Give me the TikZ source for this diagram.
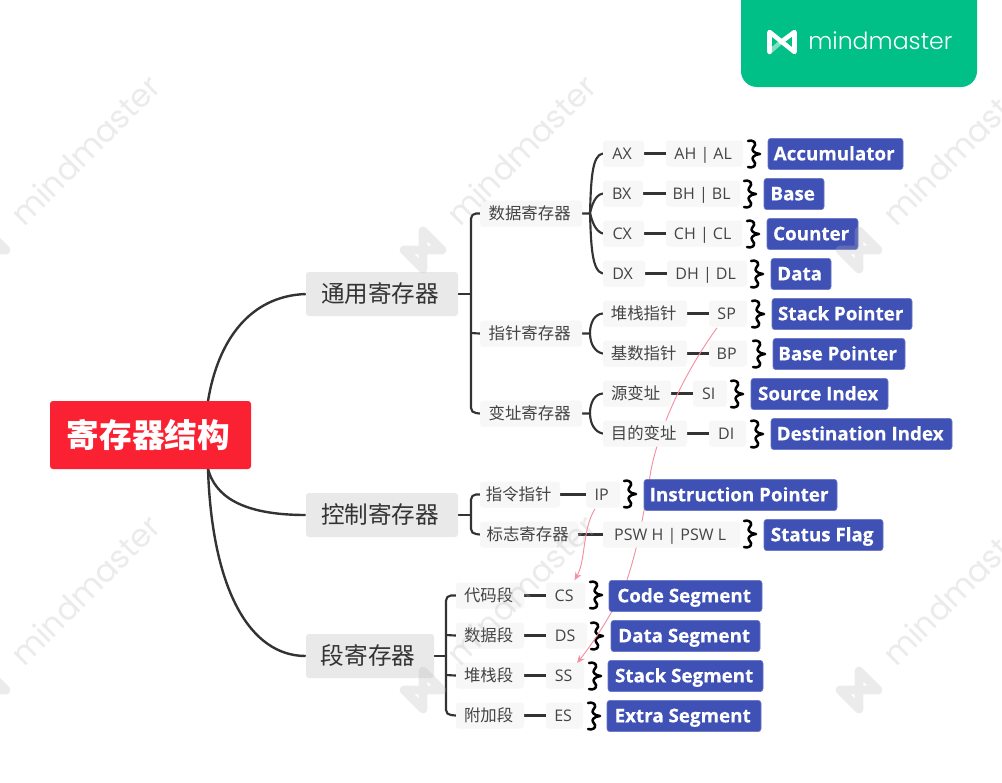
\documentclass[tikz,border=0pt]{standalone}
\usepackage{fontspec}
\usetikzlibrary{arrows.meta,calc}
\setmainfont{Open Sans}[BoldFeatures={FakeBold=0.4}]
\newfontfamily\cjk{Noto Sans CJK SC}
\newfontfamily\wmfont{Poppins Light}
\newfontfamily\wmreg{Poppins}
\definecolor{ink}{HTML}{333333}
\definecolor{soft}{HTML}{444444}
\definecolor{tagfill}{HTML}{F7F7F7}
\definecolor{topfill}{HTML}{E9E9E9}
\definecolor{bluefill}{HTML}{3F51B5}
\definecolor{rootred}{HTML}{FA2232}
\definecolor{brand}{HTML}{00C087}
\definecolor{pinkline}{HTML}{F590A0}
\definecolor{wmgrey}{HTML}{B8B8B8}
\pgfdeclarelayer{under}
\pgfsetlayers{under,main}
\tikzset{
  basebox/.style={inner sep=0pt,rounded corners=2.2pt,anchor=center,align=center},
  tagbase/.style={basebox,yshift=-0.4pt,fill=tagfill,text=soft,minimum height=19.5pt,text height=9pt,text depth=0.5pt,execute at end node={\kern2pt}},
  tag/.style={tagbase,font=\cjk\fontsize{12.3}{14}\selectfont},
  lat/.style={tagbase,font=\fontsize{12}{14}\selectfont},
  toptag/.style={basebox,fill=topfill,text=ink,minimum height=33pt,font=\cjk\fontsize{17.7}{20}\selectfont,text height=13pt,text depth=0pt,execute at end node={\kern3pt}},
  bluetag/.style={basebox,fill=bluefill,draw=bluefill!80!white,line width=.4pt,text=white,minimum height=23.5pt,font=\bfseries\fontsize{14.1}{18}\selectfont,text height=11pt,text depth=1.5pt,execute at end node={\kern2pt}},
  roottag/.style={basebox,fill=rootred,text=white,minimum height=51pt,font=\cjk\bfseries\fontsize{24.5}{28}\selectfont,execute at end node={\kern3pt}},
  link/.style={draw=ink,line width=1.6pt,line cap=round},
  toplink/.style={draw=ink,line width=1.8pt},
  relation/.style={draw=pinkline,line width=.7pt,-{Stealth[length=6pt,width=5pt]}},
  squiggle/.pic={\draw[black,line width=1.9pt,line cap=round,line join=round]
    (0,-13) .. controls (4,-14.5) and (8,-12) .. (7,-9)
            .. controls (6,-6.5) and (3,-5) .. (5.5,-2.5)
            .. controls (6.5,-1) and (9,-.5) .. (12,0)
            .. controls (9,.5) and (6.5,1) .. (5.5,2.5)
            .. controls (3,5) and (6,6.5) .. (7,9)
            .. controls (8,12) and (4,14.5) .. (0,13);},
  wmtext/.style={text=wmgrey,opacity=.27,font=\wmreg\fontsize{23.8}{28}\selectfont,rotate=45,inner sep=0pt},
  wmicon/.pic={\draw[wmgrey,opacity=.27,line width=6.5pt,line join=round]
    (0,-19) -- (19,0) -- (-19,0) -- (0,19) -- cycle;}
}
\newcommand{\bx}[6]{\node[#1,minimum width={(#4-#3)*0.75pt}] (#2) at ({(#3+#4)/2},#5) {#6};}
\newcommand{\sq}[2]{\pic at (#1,#2) {squiggle};}
\begin{document}
\begin{tikzpicture}[x=0.75pt,y=-0.75pt]
\useasboundingbox (0,0) rectangle (1002,782);

\bx{roottag}{root}{50}{251}{435}{寄存器结构}
\bx{toptag}{gen}{306}{458}{294}{通用寄存器}
\bx{toptag}{ctl}{306}{458}{515}{控制寄存器}
\bx{toptag}{seg}{306}{434}{656}{段寄存器}
\bx{tag}{data}{480}{582}{213}{数据寄存器}
\bx{tag}{ptr}{480}{582}{333}{指针寄存器}
\bx{tag}{idx}{480}{582}{413}{变址寄存器}
\bx{tag}{ins}{480}{560}{494}{指令指针}
\bx{tag}{flg}{480}{578}{534}{标志寄存器}

\bx{lat}{ax}{603}{644}{153}{AX}
\bx{lat}{ahal}{666}{743}{153}{AH | AL}
\bx{bluetag}{acc}{768}{903}{154}{Accumulator}
\bx{lat}{bx}{603}{643}{193}{BX}
\bx{lat}{bhbl}{666}{740}{193}{BH | BL}
\bx{bluetag}{bas}{764}{824}{194}{Base}
\bx{lat}{cx}{603}{644}{233}{CX}
\bx{lat}{chcl}{666}{742}{233}{CH | CL}
\bx{bluetag}{cnt}{767}{858}{234}{Counter}
\bx{lat}{dx}{603}{645}{273}{DX}
\bx{lat}{dhdl}{667}{747}{273}{DH | DL}
\bx{bluetag}{dat}{771}{831}{274}{Data}
\bx{tag}{stk}{603}{687}{313}{堆栈指针}
\bx{lat}{sp}{709}{747}{313}{SP}
\bx{bluetag}{spn}{772}{912}{314}{Stack Pointer}
\bx{tag}{bsp}{603}{687}{353}{基数指针}
\bx{lat}{bp}{709}{747}{353}{BP}
\bx{bluetag}{bpn}{773}{905}{354}{Base Pointer}
\bx{tag}{src}{603}{671}{393}{源变址}
\bx{lat}{si}{693}{727}{393}{SI}
\bx{bluetag}{sin}{751}{888}{394}{Source Index}
\bx{tag}{dst}{603}{687}{433}{目的变址}
\bx{lat}{di}{709}{746}{433}{DI}
\bx{bluetag}{din}{771}{952}{434}{Destination Index}
\bx{lat}{ip}{586}{620}{494}{IP}
\bx{bluetag}{ipn}{644}{837}{495}{Instruction Pointer}
\bx{lat}{psw}{603}{740}{534}{PSW H | PSW L}
\bx{bluetag}{fln}{764}{883}{535}{Status Flag}
\bx{tag}{cod}{456}{524}{595}{代码段}
\bx{lat}{cs}{546}{585}{595}{CS}
\bx{bluetag}{csn}{609}{762}{596}{Code Segment}
\bx{tag}{dsg}{456}{524}{635}{数据段}
\bx{lat}{ds}{546}{587}{635}{DS}
\bx{bluetag}{dsn}{611}{760}{636}{Data Segment}
\bx{tag}{ssg}{456}{524}{675}{堆栈段}
\bx{lat}{ss}{546}{584}{675}{SS}
\bx{bluetag}{ssn}{608}{763}{676}{Stack Segment}
\bx{tag}{esg}{456}{524}{715}{附加段}
\bx{lat}{es}{546}{583}{715}{ES}
\bx{bluetag}{esn}{607}{761}{716}{Extra Segment}

\begin{pgfonlayer}{under}
\fill[white] (0,0) rectangle (1002,782);
% squiggles
\sq{748}{154}\sq{744}{194}\sq{747}{234}\sq{751}{274}
\sq{752}{314}\sq{753}{354}\sq{731}{394}\sq{751}{434}
\sq{624}{494}\sq{744}{534}\sq{590}{595}\sq{591}{636}\sq{589}{676}\sq{588}{716}

% root connectors
\draw[toplink] (208,401) .. controls (218,340) and (250,296) .. (gen.west);
\draw[toplink] (208,469) .. controls (215,495) and (240,515) .. (ctl.west);
\draw[toplink] (208,469) .. controls (212,590) and (250,656) .. (seg.west);

% general bracket
\draw[link] (gen.east) -- (471,294);
\draw[link] (data.west) -- (476,213.5) arc[start angle=270,end angle=180,radius=5] -- (471,408) arc[start angle=180,end angle=90,radius=5] -- (idx.west);
\draw[link] (471,333) -- (ptr.west);
% control bracket
\draw[link] (ctl.east) -- (471,515);
\draw[link] (ins.west) -- (476,494.5) arc[start angle=270,end angle=180,radius=5] -- (471,529) arc[start angle=180,end angle=90,radius=5] -- (flg.west);
% segment bracket
\draw[link] (seg.east) -- (446,656);
\draw[link] (cod.west) -- (451,595.5) arc[start angle=270,end angle=180,radius=5] -- (446,710) arc[start angle=180,end angle=90,radius=5] -- (esg.west);
\draw[link] (446,635) -- (dsg.west);
\draw[link] (446,675) -- (ssg.west);

% data bracket
\draw[link] (data.east) -- (590,213.5);
\draw[link] (ax.west) .. controls (592,155) and (591,180) .. (590,213) .. controls (591,246) and (592,271) .. (dx.west);
\draw[link] (bx.west) .. controls (595,195) and (592,205) .. (590,213) .. controls (592,221) and (595,231) .. (cx.west);
% pointer bracket
\draw[link] (ptr.east) -- (590,333.5);
\draw[link] (stk.west) .. controls (595,314) and (590,322) .. (590,333) .. controls (590,344) and (595,352) .. (bsp.west);
% index bracket
\draw[link] (idx.east) -- (590,413.5);
\draw[link] (src.west) .. controls (595,394) and (590,402) .. (590,413) .. controls (590,424) and (595,432) .. (dst.west);
% leaf links
\foreach \a/\b in {ax/ahal,bx/bhbl,cx/chcl,dx/dhdl,stk/sp,bsp/bp,src/si,dst/di,ins/ip,flg/psw,cod/cs,dsg/ds,ssg/ss,esg/es}
  \draw[link,line cap=butt] (\a.east) -- (\b.west);

% relations
\draw[relation] ($(sp.south)+(-11,1)$) .. controls (685,372) and (660,425) .. (651,470)
  .. controls (645,505) and (640,540) .. (627,580)
  .. controls (615,610) and (595,640) .. ($(ss.north)+(12,1)$);
\draw[relation] ($(ip.south)+(-8,1)$) .. controls (582,530) and (586,560) .. ($(cs.north)+(9,-2)$);
\end{pgfonlayer}

% watermarks
\foreach \dx in {0,436,872}
  \foreach \dy in {0,440}{
    \node[wmtext] (wm\dx-\dy) at ({85+\dx},{150+\dy}) {mindmaster};
    \pic at ({-13+\dx},{250+\dy}) {wmicon};
  }

% brand panel
\fill[brand,rounded corners=12pt] (741,-30) rectangle (977,87);
\draw[white,line width=3.4pt,line join=round,line cap=round] (781,42) -- (794.5,32) -- (794.5,52) -- (769.5,32) -- (769.5,52);
\draw[white,opacity=.5,line width=3.4pt] (769.5,52) -- (781,42);
\node[text=white,font=\wmfont\fontsize{17.7}{22}\selectfont,inner sep=0pt,anchor=west] (brandname) at (808,41) {mindmaster};
\end{tikzpicture}
\end{document}
